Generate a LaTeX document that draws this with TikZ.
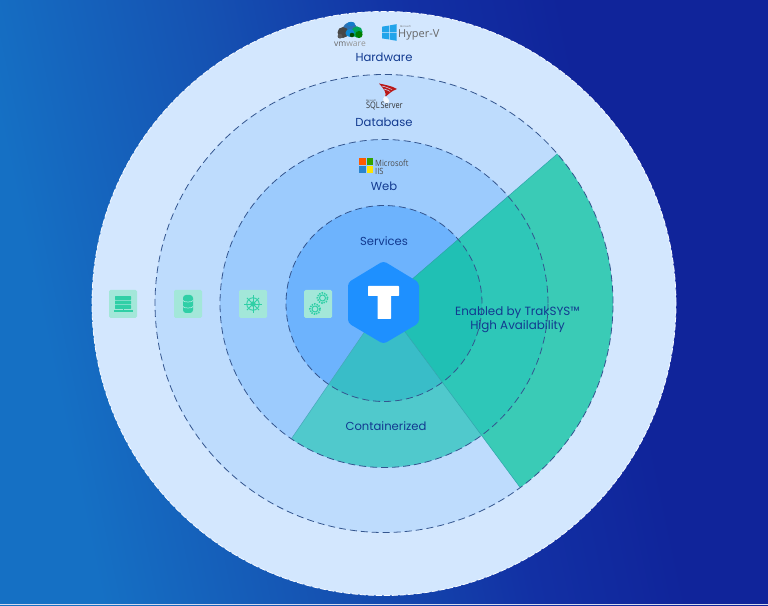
\documentclass[tikz,border=0pt]{standalone}
\usepackage{fontspec}
\setmainfont{Poppins}
\newfontfamily\lightfont{Open Sans}
\definecolor{cOut}{HTML}{D3E7FE}
\definecolor{cDb}{HTML}{BEDCFD}
\definecolor{cWeb}{HTML}{9CCBFD}
\definecolor{cSvc}{HTML}{6DB3FD}
\definecolor{cHex}{HTML}{1E90FF}
\definecolor{haA}{HTML}{3ACBB6}
\definecolor{haB}{HTML}{2EC7B8}
\definecolor{haC}{HTML}{20C0B4}
\definecolor{coA}{HTML}{50C9CC}
\definecolor{coB}{HTML}{39BDC8}
\definecolor{cTile}{HTML}{A3E7D9}
\definecolor{cIcon}{HTML}{30CFA6}
\definecolor{cText}{HTML}{123A90}
\definecolor{cDash}{HTML}{34568F}
\definecolor{cWin}{HTML}{22A4EA}
\definecolor{bgA}{HTML}{1570C4}
\definecolor{bgB}{HTML}{1552B2}
\definecolor{bgC}{HTML}{1230A4}
\definecolor{bgD}{HTML}{10249A}
\definecolor{bgE}{HTML}{0F3E9C}
\pgfdeclarehorizontalshading{bgshade}{100bp}{
  color(0bp)=(bgA); color(27bp)=(bgA); color(42bp)=(bgB); color(56bp)=(bgC);
  color(66bp)=(bgD); color(80bp)=(bgD); color(100bp)=(bgE)}
\tikzset{
  ringdash/.style={draw=cDash,line width=0.8pt,dash pattern=on 7pt off 4pt},
  lab/.style={text=cText,font=\fontsize{11.6}{14}\selectfont,inner sep=0pt,align=center},
  tile/.style={fill=cTile,rounded corners=1.5pt},
  iconline/.style={draw=cIcon,line width=0.9pt},
  iconfill/.style={fill=cIcon},
  logotext/.style={text=#1,inner sep=0pt,font=\lightfont},
  logotext/.default=black!60
}
\begin{document}
\begin{tikzpicture}[x=1pt,y=1pt]
\useasboundingbox (0,0) rectangle (768,605);
\shade[shading=bgshade,shading angle=12] (-1,-1) rectangle (769,606);
\fill[white!82!bgC] (0,0) rectangle (768,1.2);

\begin{scope}[shift={(384,301.5)}]
  \def\hapath{(0,0) -- (-53.5:229) arc[start angle=-53.5,end angle=40.8,radius=229] -- cycle}
  \def\copath{(0,0) -- (235.6:164) arc[start angle=235.6,end angle=306.5,radius=164] -- cycle}
  \fill[cOut] (0,0) circle[radius=292];
  \draw[white!85!cOut,line width=0.8pt,dash pattern=on 6pt off 2pt] (0,0) circle[radius=292];
  \fill[cDb] (0,0) circle[radius=229];
  \fill[cWeb] (0,0) circle[radius=164];
  \fill[cSvc] (0,0) circle[radius=98];
  \fill[haA] \hapath;
  \begin{scope}
    \clip \hapath;
    \fill[haB] (0,0) circle[radius=164];
    \fill[haC] (0,0) circle[radius=98];
  \end{scope}
  \fill[coA] \copath;
  \begin{scope}
    \clip \copath;
    \fill[coB] (0,0) circle[radius=98];
  \end{scope}
  \draw[cDash!30!haB,line width=0.5pt] (-53.5:229) -- (0,0) -- (40.8:229);
  \draw[cDash!30!coA,line width=0.5pt] (235.6:164) -- (0,0);
  \draw[ringdash] (0,0) circle[radius=229];
  \draw[ringdash] (0,0) circle[radius=164];
  \draw[ringdash] (0,0) circle[radius=98];
\end{scope}

% hexagon
\fill[cHex,rounded corners=3.5pt] (383.5,344) -- (419,322.5) -- (419,282) -- (383.5,261) -- (348,282) -- (348,322.5) -- cycle;
\fill[white,rounded corners=0.6pt] (368,319) rectangle (399,309);
\fill[white,rounded corners=0.6pt] (377.5,310) rectangle (391,286);

% tiles
\fill[tile] (109,287) rectangle (137,315);
\fill[tile] (174,287) rectangle (202,315);
\fill[tile] (239,287) rectangle (267,315);
\fill[tile] (304,287) rectangle (332,315);

% server icon
\foreach \yy in {305,300.5,296}{\fill[iconfill,rounded corners=0.5pt] (115,\yy) rectangle (131,\yy+3.8);}
\draw[iconline] (123,296) -- (123,293.5);
\fill[iconfill] (113.5,293.2) rectangle (132.5,294.6);
% database icon
\fill[iconfill,rounded corners=3pt] (183,292) rectangle (193,310);
\draw[cTile,line width=0.7pt] (183,304.5) arc[start angle=180,end angle=360,x radius=5,y radius=1.5];
\draw[cTile,line width=0.7pt] (183,298.5) arc[start angle=180,end angle=360,x radius=5,y radius=1.5];
% helm icon
\draw[iconline] (253,301) circle[radius=6.2];
\draw[iconline,line width=1.2pt] (253,301) circle[radius=2];
\foreach \aa in {0,45,...,315}{\draw[iconline,line width=0.8pt] (253,301) -- ++(\aa:8.6);}
% gears icon
\draw[iconline,line width=1pt] (322.5,307) circle[radius=3];
\draw[iconline,line width=1.6pt,dash pattern=on 1.4pt off 1.1pt] (322.5,307) circle[radius=5.2];
\draw[iconline,line width=1pt] (315,296) circle[radius=3];
\draw[iconline,line width=1.6pt,dash pattern=on 1.4pt off 1.1pt] (315,296) circle[radius=5.2];

% vmware logo
\fill[cyan!55!blue!85!black] (350,576) ellipse[x radius=7,y radius=6.5];
\fill[black!72] (343,572.5) circle[radius=5.5];
\fill[teal!70!green] (357,573) circle[radius=5.6];
\fill[green!50!black] (359,570.5) circle[radius=3.6];
\fill[cyan!70!blue] (350,572) ellipse[x radius=4.5,y radius=4];
\fill[black!65] (340,568.8) circle[radius=2.4];
\fill[black!70!green] (352,570) circle[radius=2.3];
\fill[cyan!60!blue] (351,581) ellipse[x radius=4,y radius=2.2];
\node[logotext,font=\lightfont\fontsize{8.5}{9}\selectfont] (vmw) at (350,561) {vm\textcolor{black!42}{ware}};
% Hyper-V logo
\fill[cWin] (382,578.3) -- (388.8,579.4) -- (388.8,572.7) -- (382,572.7) -- cycle;
\fill[cWin] (389.6,579.6) -- (396.5,580.8) -- (396.5,572.7) -- (389.6,572.7) -- cycle;
\fill[cWin] (382,571.8) -- (388.8,571.8) -- (388.8,565.6) -- (382,566.6) -- cycle;
\fill[cWin] (389.6,571.8) -- (396.5,571.8) -- (396.5,564.2) -- (389.6,565.4) -- cycle;
\node[logotext,font=\lightfont\fontsize{2.4}{2.5}\selectfont,anchor=west] (hvm) at (400,578.2) {Microsoft};
\node[logotext,font=\lightfont\fontsize{11}{11}\selectfont,anchor=west] (hv) at (398,570.3) {Hyper-V};
% SQL Server logo
\fill[red!70!black!90] (379,521.5) .. controls (386,520) and (392,519) .. (397,516) .. controls (391,514) and (388,510) .. (385,508) .. controls (387,512) and (384,516) .. (379,521.5) -- cycle;
\draw[cOut,line width=0.5pt] (382,519) .. controls (387,518) and (390,516) .. (392,515.5);
\draw[cOut,line width=0.5pt] (384,516) .. controls (387,515.5) and (389,514) .. (390,513.5);
\fill[white!70!cOut] (385,509) .. controls (381,506) and (384,501) .. (388,502) .. controls (390,503) and (389,507) .. (385,509) -- cycle;
\node[logotext=black!80,font=\lightfont\fontsize{9}{10}\selectfont,anchor=west,transform shape,xscale=0.82] (sql) at (366,498.5) {SQL\kern1pt Server};
\node[logotext=black!80,font=\lightfont\fontsize{2.2}{2.5}\selectfont,anchor=west] (sqlm) at (366,504.5) {Microsoft};
% Microsoft IIS logo
\fill[orange!70!red] (359,446.5) rectangle (365.6,439.5);
\fill[green!55!black!80!yellow] (366.5,446.5) rectangle (373,439.5);
\fill[cyan!60!blue!90] (359,438.6) rectangle (365.6,431.5);
\fill[yellow!85!orange] (366.5,438.6) rectangle (373,431.5);
\node[logotext=black!70,font=\lightfont\fontsize{8.6}{9}\selectfont,anchor=west,transform shape,xscale=0.88] (ms) at (375,442) {Microsoft};
\node[logotext=black!70,font=\lightfont\fontsize{8.6}{9}\selectfont,anchor=west,transform shape,xscale=0.88] (iis) at (375,434) {IIS};

% labels
\node[lab] (hw) at (384,548) {Hardware};
\node[lab] (dbl) at (384,483) {Database};
\node[lab] (webl) at (384,419) {Web};
\node[lab] (svc) at (384,364) {Services};
\node[lab] (con) at (386,179) {Containerized};
\node[lab,font=\fontsize{11.9}{14}\selectfont] (ha) at (517.5,285) {Enabled by TrakSYS™\\High Availability};
\end{tikzpicture}
\end{document}
